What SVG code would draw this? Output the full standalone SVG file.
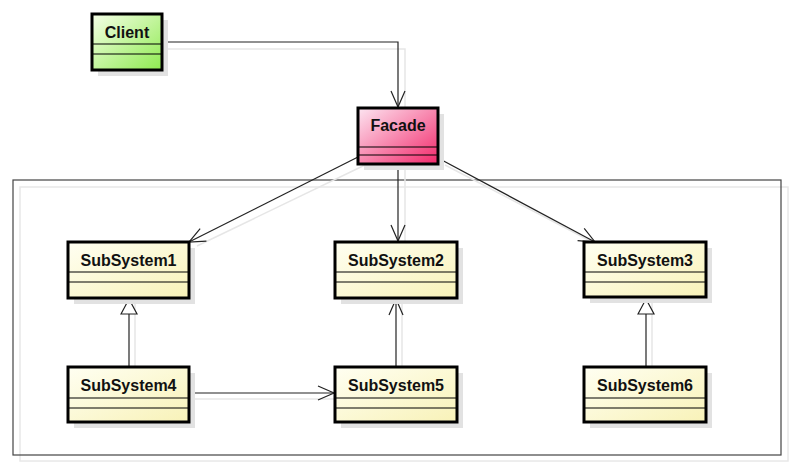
<svg xmlns="http://www.w3.org/2000/svg" width="800" height="474" viewBox="0 0 800 474">
<style>
.box{stroke:#000;stroke-width:3}
.div{stroke:#000;stroke-width:1.2}
.sh{fill:#e2e2e2}
.lbl{font-family:"Liberation Sans",Arial,sans-serif;font-size:16px;font-weight:bold;fill:#111;text-anchor:middle}
.ln{fill:none;stroke:#222;stroke-width:1.2}
.lsh{fill:none;stroke:#e6e6e6;stroke-width:1.5}
</style>
<defs>
<linearGradient id="gG" x1="0" y1="0" x2="1" y2="1"><stop offset="0" stop-color="#f6ffe8"/><stop offset="1" stop-color="#8eea50"/></linearGradient>
<linearGradient id="gP" x1="0" y1="0" x2="1" y2="1"><stop offset="0" stop-color="#fde6f2"/><stop offset="1" stop-color="#f2286a"/></linearGradient>
<linearGradient id="gY" x1="0" y1="0" x2="1" y2="1"><stop offset="0" stop-color="#fffff2"/><stop offset="1" stop-color="#f8f2b8"/></linearGradient>
<marker id="open" viewBox="0 0 20 20" refX="18" refY="10" markerWidth="20" markerHeight="20" markerUnits="userSpaceOnUse" orient="auto"><path d="M2,3 L18,10 L2,17" fill="none" stroke="#222" stroke-width="1.2"/></marker>
<marker id="tri" viewBox="0 0 20 20" refX="18" refY="10" markerWidth="20" markerHeight="20" markerUnits="userSpaceOnUse" orient="auto"><path d="M3,2 L18,10 L3,18 Z" fill="#fff" stroke="#222" stroke-width="1.2"/></marker>
</defs>
<rect width="800" height="474" fill="#fff"/>
<g id="frame">
<rect x="20" y="187" width="768" height="274" fill="none" stroke="#e8e8e8" stroke-width="1.5"/>
<rect x="13" y="180" width="768" height="275" fill="none" stroke="#444" stroke-width="1.2"/>
</g>
<g id="connectors">
<polyline class="lsh" points="164,49 405,49 405,110"/>
<polyline class="ln" points="162,42 398,42 398,107" marker-end="url(#open)"/>
<line class="lsh" x1="365" y1="165" x2="197" y2="246"/>
<line class="ln" x1="358" y1="157" x2="189" y2="242" marker-end="url(#open)"/>
<line class="lsh" x1="405" y1="166" x2="405" y2="244"/>
<line class="ln" x1="398" y1="164" x2="398" y2="241" marker-end="url(#open)"/>
<line class="lsh" x1="445" y1="165" x2="600" y2="246"/>
<line class="ln" x1="438" y1="158" x2="595" y2="242" marker-end="url(#open)"/>
<line class="lsh" x1="135" y1="366" x2="135" y2="300"/>
<line class="ln" x1="129" y1="367" x2="129" y2="299" marker-end="url(#tri)"/>
<line class="lsh" x1="191" y1="399" x2="338" y2="399"/>
<line class="ln" x1="189" y1="393" x2="334" y2="393" marker-end="url(#open)"/>
<line class="lsh" x1="402" y1="366" x2="402" y2="300"/>
<line class="ln" x1="396" y1="367" x2="396" y2="299" marker-end="url(#open)"/>
<line class="lsh" x1="652" y1="366" x2="652" y2="300"/>
<line class="ln" x1="646" y1="367" x2="646" y2="299" marker-end="url(#tri)"/>
</g>
<g id="client">
<rect class="sh" x="98" y="20" width="70" height="56"/>
<rect class="box" x="92" y="14" width="70" height="56" fill="url(#gG)"/>
<line class="div" x1="92" y1="44" x2="162" y2="44"/><line class="div" x1="92" y1="54" x2="162" y2="54"/>
<text class="lbl" x="127" y="38">Client</text>
</g>
<g id="facade">
<rect class="sh" x="364" y="114" width="80" height="56"/>
<rect class="box" x="358" y="108" width="80" height="56" fill="url(#gP)"/>
<line class="div" x1="358" y1="147" x2="438" y2="147"/><line class="div" x1="358" y1="155" x2="438" y2="155"/>
<text class="lbl" x="398" y="131">Facade</text>
</g>
<g id="subsystem1">
<rect class="sh" x="74" y="248" width="121" height="56"/>
<rect class="box" x="68" y="242" width="121" height="56" fill="url(#gY)"/>
<line class="div" x1="68" y1="272" x2="189" y2="272"/><line class="div" x1="68" y1="282" x2="189" y2="282"/>
<text class="lbl" x="128.5" y="266">SubSystem1</text>
</g>
<g id="subsystem2">
<rect class="sh" x="341" y="248" width="122" height="56"/>
<rect class="box" x="335" y="242" width="122" height="56" fill="url(#gY)"/>
<line class="div" x1="335" y1="272" x2="457" y2="272"/><line class="div" x1="335" y1="282" x2="457" y2="282"/>
<text class="lbl" x="396" y="266">SubSystem2</text>
</g>
<g id="subsystem3">
<rect class="sh" x="590" y="248" width="122" height="55"/>
<rect class="box" x="584" y="242" width="122" height="55" fill="url(#gY)"/>
<line class="div" x1="584" y1="272" x2="706" y2="272"/><line class="div" x1="584" y1="282" x2="706" y2="282"/>
<text class="lbl" x="645" y="266">SubSystem3</text>
</g>
<g id="subsystem4">
<rect class="sh" x="74" y="373" width="121" height="55"/>
<rect class="box" x="68" y="367" width="121" height="55" fill="url(#gY)"/>
<line class="div" x1="68" y1="398" x2="189" y2="398"/><line class="div" x1="68" y1="408" x2="189" y2="408"/>
<text class="lbl" x="128.5" y="391">SubSystem4</text>
</g>
<g id="subsystem5">
<rect class="sh" x="341" y="373" width="122" height="55"/>
<rect class="box" x="335" y="367" width="122" height="55" fill="url(#gY)"/>
<line class="div" x1="335" y1="398" x2="457" y2="398"/><line class="div" x1="335" y1="408" x2="457" y2="408"/>
<text class="lbl" x="396" y="391">SubSystem5</text>
</g>
<g id="subsystem6">
<rect class="sh" x="590" y="373" width="122" height="55"/>
<rect class="box" x="584" y="367" width="122" height="55" fill="url(#gY)"/>
<line class="div" x1="584" y1="398" x2="706" y2="398"/><line class="div" x1="584" y1="408" x2="706" y2="408"/>
<text class="lbl" x="645" y="391">SubSystem6</text>
</g>
</svg>
